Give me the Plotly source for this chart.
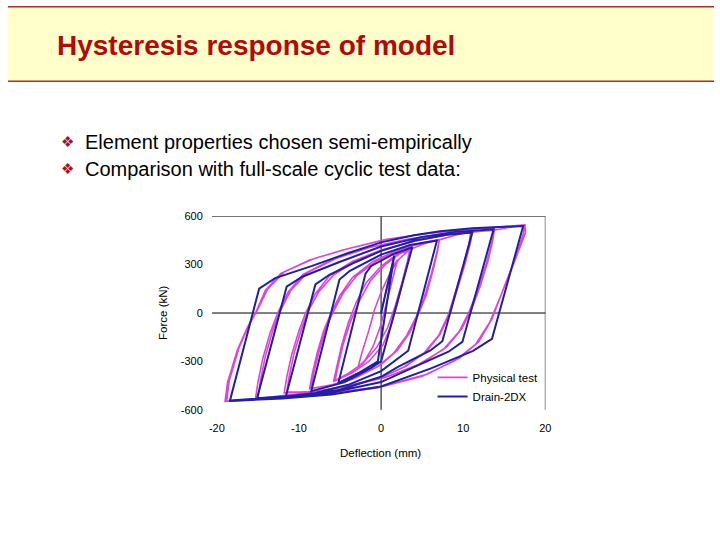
import plotly.graph_objects as go

# ---------------- data ----------------
x_ticks = [-20, -10, 0, 10, 20]
x_tick_labels = ["-20", "-10", "0", "10", "20"]
y_ticks = [-600, -300, 0, 300, 600]
y_tick_labels = ["-600", "-300", "0", "300", "600"]

# Drain-2DX model response (deflection mm, force kN) vertices
drain_pts = [
    (0, 0), (1.6, 355),
    (-0.4, -300), (-2.5, -365), (-5.2, -433),
    (-1.9, 244), (-1.2, 292), (1.5, 365), (3.8, 408),
    (0, -299), (-1.2, -340), (-4.5, -430), (-8.5, -484),
    (-5.07, 208), (-3.8, 262), (0, 362), (3.5, 422), (6.8, 450),
    (3.3, -234), (1.8, -290), (0, -360), (-4, -445), (-8, -495), (-11.6, -518),
    (-8.0, 177), (-6.3, 237), (-3, 318), (0, 385), (4, 448), (8, 485), (11.1, 499),
    (7.46, -175), (6, -232), (2, -335), (0, -395), (-5, -475), (-10, -512), (-15.1, -528),
    (-11.5, 163), (-9.6, 225), (-5, 318), (0, 412), (5, 472), (9, 503), (13.7, 519),
    (9.9, -179), (8.2, -240), (4, -335), (0, -428), (-6, -492), (-12, -522), (-18.4, -542),
    (-14.85, 151), (-12.9, 216), (-8.4, 292), (-4, 372), (0, 438), (4, 482), (7.2, 507),
    (11.1, 526), (17.3, 539),
    (13.5, -160), (11.2, -235), (6, -345), (0, -455), (-6, -505), (-12, -530), (-18.5, -545),
]

# Physical test response (deflection mm, force kN)
test_pts = [
    (0, 0), (0.8, 180), (1.5, 290), (2.0, 330),
    (1.6, 250), (0.8, 90), (0, -70), (-1.0, -210), (-2.0, -295), (-2.8, -335),
    (-2.3, -240), (-1.5, -110), (-0.8, 20), (0, 130), (1.2, 260), (2.2, 335), (3.5, 395),
    (3.3, 330), (2.7, 200), (2.0, 60), (1.2, -80), (0.2, -200), (-1.5, -300), (-3.5, -370), (-5.8, -425),
    (-5.4, -330), (-4.8, -200), (-4.0, -60), (-3.0, 70), (-1.8, 190), (0, 290), (1.8, 360), (3.5, 398),
    (3.2, 320), (2.5, 180), (1.7, 40), (0.8, -90), (-0.5, -210), (-2.2, -310), (-4.0, -375), (-5.6, -418),
    (-5.2, -320), (-4.6, -190), (-3.7, -50), (-2.6, 80), (-1.3, 200), (0.5, 300), (2.2, 365), (3.6, 395),
    (5.2, 430), (7.1, 455),
    (6.9, 390), (6.3, 260), (5.5, 110), (4.6, 0), (3.5, -120), (2, -230), (0, -320), (-3, -400), (-6, -445), (-8.7, -470),
    (-8.4, -380), (-7.8, -250), (-7.0, -110), (-6.1, 0), (-5, 110), (-3.5, 220), (-1, 320), (2, 390), (5, 435), (7.1, 455),
    (6.8, 380), (6.1, 240), (5.2, 90), (4.3, -20), (3.1, -140), (1.5, -250), (-0.5, -335), (-3.5, -410), (-6.3, -450), (-8.5, -468),
    (-8.2, -370), (-7.5, -230), (-6.7, -90), (-5.8, 10), (-4.6, 125), (-3, 230), (-0.5, 325), (2.5, 395), (5.2, 437), (7.0, 452),
    (9.0, 482), (11.1, 505),
    (10.9, 440), (10.2, 300), (9.3, 150), (8.4, 0), (7.2, -130), (5.5, -240), (3, -330), (0, -400), (-4, -455), (-8, -485), (-11.8, -495),
    (-11.5, -400), (-10.9, -260), (-10.0, -110), (-9.2, 0), (-8.0, 120), (-6.3, 230), (-3.5, 320), (0, 390), (4, 445), (8, 485), (10.9, 500),
    (10.7, 430), (10.0, 290), (9.1, 140), (8.2, -10), (7.0, -140), (5.2, -250), (2.6, -340), (-0.5, -410), (-4.5, -462), (-8.5, -488), (-11.5, -490),
    (-11.2, -395), (-10.6, -250), (-9.7, -100), (-8.9, 10), (-7.6, 130), (-5.8, 235), (-3.0, 325), (0.5, 395), (4.5, 450), (8.5, 488), (11.0, 502),
    (12.5, 510), (13.8, 515),
    (13.6, 450), (13.0, 320), (12.1, 170), (11.0, 20), (9.8, -100), (8.0, -210), (5.0, -310), (1.0, -390), (-4.0, -450), (-9.0, -495), (-15.3, -532),
    (-15.0, -430), (-14.4, -280), (-13.5, -120), (-12.6, 0), (-11.3, 130), (-9.5, 240), (-6.0, 330), (-2.0, 400), (3.0, 455), (8.0, 492), (13.8, 515),
    (13.5, 440), (12.8, 305), (11.8, 150), (10.7, 5), (9.5, -115), (7.6, -225), (4.5, -320), (0.5, -400), (-4.5, -458), (-9.5, -500), (-15.0, -528),
    (-14.7, -420), (-14.1, -270), (-13.2, -110), (-12.3, 10), (-11.0, 140), (-9.0, 250), (-5.5, 338), (-1.5, 405), (3.5, 460), (8.5, 495), (13.6, 512),
    (15.5, 530), (17.5, 545),
    (17.3, 490), (17.0, 440), (16.3, 330), (15.2, 190), (14.3, 70), (13.5, -36), (11.9, -178), (9.55, -279), (5.6, -380), (0, -455),
    (-6, -495), (-12, -522), (-16, -535), (-19, -548),
    (-18.7, -430), (-17.5, -230), (-16.3, -90), (-15.3, 0), (-14.1, 140), (-12.2, 245), (-8.7, 329), (-4.75, 389), (0, 450),
    (5, 490), (10, 515), (15, 535), (17.5, 546),
    (17.6, 500), (17.1, 430), (16.1, 300), (15.0, 160), (14.1, 45), (13.2, -60), (11.5, -195), (9.0, -295), (5.0, -392), (-0.5, -465),
    (-6.5, -503), (-12.5, -528), (-16.5, -540), (-18.8, -546),
    (-18.5, -420), (-17.3, -215), (-16.1, -75), (-15.1, 15), (-13.8, 150), (-11.8, 255), (-8.3, 335), (-4.3, 395), (0.5, 455),
    (5.5, 493), (10.5, 518), (15.5, 537), (17.2, 542),
]

series_names = ["Physical test", "Drain-2DX"]
title_text = "Hysteresis response of model"
bullets = ["Element properties chosen semi-empirically",
           "Comparison with full-scale cyclic test data:"]

# ---------------- figure ----------------
W, H = 720, 540
FONT = "Liberation Sans, Arial, sans-serif"

def px(x):
    return x / W

def py(y):
    return 1 - y / H

test_x = [p[0] for p in test_pts]
test_y = [p[1] for p in test_pts]
drain_x = [p[0] for p in drain_pts]
drain_y = [p[1] for p in drain_pts]

fig = go.Figure()
fig.add_trace(go.Scatter(x=test_x, y=test_y, mode="lines", name=series_names[0],
                         line=dict(color="#DD44DD", width=1.6)))
fig.add_trace(go.Scatter(x=drain_x, y=drain_y, mode="lines", name=series_names[1],
                         line=dict(color="#2020A0", width=2)))

fig.update_layout(
    width=W, height=H,
    margin=dict(l=0, r=0, t=0, b=0),
    paper_bgcolor="white", plot_bgcolor="rgba(0,0,0,0)",
    font=dict(family=FONT, color="black"),
    showlegend=True,
    legend=dict(x=px(433), y=py(365), xanchor="left", yanchor="top",
                font=dict(size=11.5, family=FONT, color="black"),
                bgcolor="rgba(0,0,0,0)", tracegroupgap=0),
    xaxis=dict(domain=[px(213), px(548)], range=[-20, 20],
               tickvals=x_ticks, ticktext=x_tick_labels,
               showgrid=False, zeroline=False, showline=False, ticks="",
               tickfont=dict(size=11, family=FONT, color="black"),
               ticklabelstandoff=10, fixedrange=True),
    yaxis=dict(domain=[py(413), py(215)], range=[-600, 600],
               tickvals=y_ticks, ticktext=y_tick_labels,
               showgrid=False, zeroline=False, showline=False, ticks="",
               tickfont=dict(size=11, family=FONT, color="black"),
               ticklabelstandoff=13, fixedrange=True),
)

shapes = [
    # title band
    dict(type="rect", xref="paper", yref="paper", x0=0, x1=1, y0=py(77), y1=1,
         fillcolor="#FFFFCC", line=dict(width=0), layer="below"),
    dict(type="line", xref="paper", yref="paper", x0=0, x1=1, y0=py(0.8), y1=py(0.8),
         line=dict(color="#A03028", width=1.5)),
    dict(type="line", xref="paper", yref="paper", x0=0, x1=1, y0=py(77), y1=py(77),
         line=dict(color="#A03028", width=1.5)),
    # chart frame lines
    dict(type="line", xref="paper", yref="y", x0=px(208), x1=px(548), y0=600, y1=600,
         line=dict(color="black", width=1), layer="below"),
    dict(type="line", xref="paper", yref="y", x0=px(208), x1=px(548), y0=0, y1=0,
         line=dict(color="black", width=1), layer="below"),
    dict(type="line", xref="x", yref="y", x0=0, x1=0, y0=-615, y1=600,
         line=dict(color="black", width=1), layer="below"),
    dict(type="line", xref="x", yref="y", x0=20, x1=20, y0=-615, y1=600,
         line=dict(color="black", width=1), layer="below"),
]
fig.update_layout(shapes=shapes)

annotations = [
    dict(text="<b>" + title_text + "</b>", xref="paper", yref="paper",
         x=px(48), y=py(40), xanchor="left", yanchor="middle", showarrow=False,
         font=dict(size=28, family=FONT, color="#B00A0A")),
    dict(text="Force (kN)", xref="paper", yref="paper", x=px(158), y=py(314),
         xanchor="center", yanchor="middle", textangle=-90, showarrow=False,
         font=dict(size=11.5, family=FONT, color="black")),
    dict(text="Deflection (mm)", xref="paper", yref="paper", x=px(380), y=py(457),
         xanchor="center", yanchor="middle", showarrow=False,
         font=dict(size=11.5, family=FONT, color="black")),
]
for i, b in enumerate(bullets):
    yc = 139 + 28 * i
    annotations.append(dict(text="\u2756", xref="paper", yref="paper", x=px(52), y=py(yc),
                            xanchor="left", yanchor="middle", showarrow=False,
                            font=dict(size=15, family="DejaVu Sans", color="#A8102A")))
    annotations.append(dict(text=b, xref="paper", yref="paper", x=px(76), y=py(yc),
                            xanchor="left", yanchor="middle", showarrow=False,
                            font=dict(size=20, family=FONT, color="black")))
fig.update_layout(annotations=annotations)

pin_js = (
    "document.documentElement.style.margin='0';"
    "document.body.style.margin='0';document.body.style.padding='0';"
    "document.body.style.overflow='hidden';"
    "var d=document.getElementsByClassName('plotly-graph-div')[0];"
    "if(d){d.style.position='fixed';d.style.left='0px';d.style.top='0px';}"
)
fig.write_html("out.html", config={"displayModeBar": False}, post_script=pin_js)
